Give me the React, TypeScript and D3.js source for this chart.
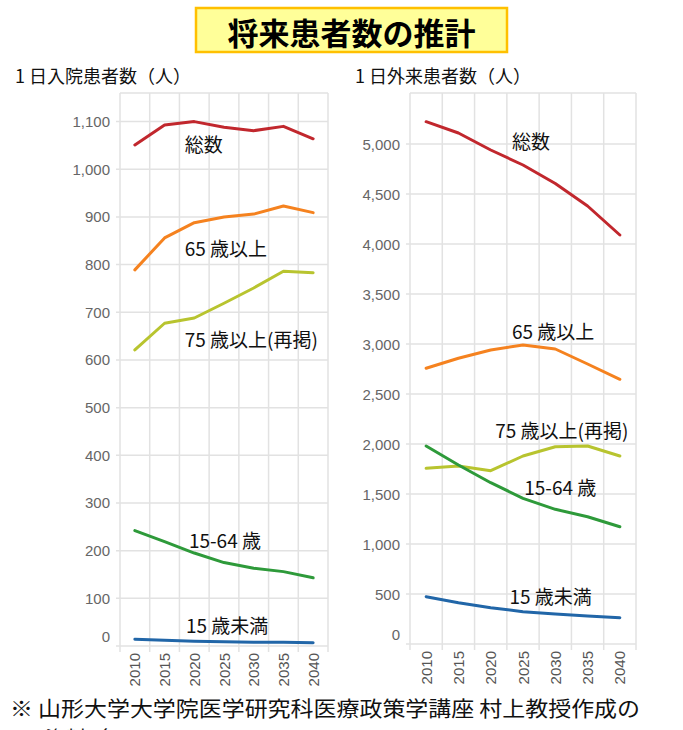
import React from "react";
import * as d3 from "d3";

const years = [2010, 2015, 2020, 2025, 2030, 2035, 2040];

// Inpatients per day
const inTotal = [1051, 1093, 1100, 1088, 1081, 1090, 1064];
const in65 = [789, 856, 888, 900, 906, 923, 909];
const in75 = [621, 677, 688, 719, 751, 786, 783];
const in1564 = [242, 219, 195, 175, 163, 156, 143];
const in15 = [14, 12, 10, 9, 8, 8, 7];

// Outpatients per day
const outTotal = [5223, 5110, 4940, 4790, 4605, 4380, 4090];
const out65 = [2757, 2857, 2940, 2990, 2950, 2800, 2647];
const out75 = [1757, 1780, 1733, 1880, 1973, 1980, 1880];
const out1564 = [1980, 1790, 1613, 1457, 1347, 1273, 1173];
const out15 = [473, 413, 363, 323, 300, 280, 263];

const seriesNames = ["総数", "65 歳以上", "75 歳以上(再掲)", "15-64 歳", "15 歳未満"];
const seriesColors = ["#c1272d", "#f5821f", "#b8c42f", "#2e9a3a", "#2166a8"];

const inTicks = [0, 100, 200, 300, 400, 500, 600, 700, 800, 900, 1000, 1100];
const outTicks = [0, 500, 1000, 1500, 2000, 2500, 3000, 3500, 4000, 4500, 5000];

// label anchors [year, value]
const inLabelYears = [2018.4, 2018.4, 2018.4, 2019.1, 2018.6];
const inLabelValues = [1055, 835, 646, 224, 46];
const outLabelYears = [2023.3, 2023.3, 2020.7, 2025.2, 2022.9];
const outLabelValues = [5040, 3140, 2150, 1580, 490];

const chartTitle = "将来患者数の推計";
const inTitle = "1 日入院患者数（人）";
const outTitle = "1 日外来患者数（人）";
const footnote1 = "※ 山形大学大学院医学研究科医療政策学講座 村上教授作成の";
const footnote2 = "資料（";

const JP = "'Noto Sans CJK JP', 'Noto Sans', sans-serif";
const TICKF = "'Liberation Sans', Arial, sans-serif";

type PanelProps = {
  left: number;
  right: number;
  top: number;
  bottom: number;
  yMax: number;
  data: number[][];
  ticks: number[];
  title: string;
  titleX: number;
  labelYears: number[];
  labelValues: number[];
};

function Panel(p: PanelProps) {
  const x = d3.scaleBand<number>().domain(years).range([p.left, p.right]).padding(0);
  const bw = x.bandwidth();
  const xc = (yr: number) => (x(yr) as number) + bw / 2;
  const xLin = d3.scaleLinear().domain([2010, 2040]).range([xc(2010), xc(2040)]);
  const y = d3.scaleLinear().domain([0, p.yMax]).range([p.bottom, p.top]);
  const fmt = d3.format(",");
  const line = d3
    .line<number>()
    .x((_, i) => xc(years[i]))
    .y((d) => y(d));
  const edges = [...years.map((yr) => x(yr) as number), p.right];
  const grid = "#e2e2e2";
  return (
    <g>
      <text x={p.titleX} y={75} dominantBaseline="central" fontFamily={JP} fontSize={18} fill="#111">
        {p.title}
      </text>
      {/* vertical grid */}
      {edges.map((ex, i) => (
        <line key={"v" + i} x1={ex} x2={ex} y1={p.top} y2={p.bottom + 6} stroke={grid} strokeWidth={1.5} />
      ))}
      <line x1={p.left} x2={p.right} y1={p.top} y2={p.top} stroke={grid} strokeWidth={1.5} />
      {/* horizontal grid */}
      {p.ticks.map((t) => (
        <g key={"h" + t}>
          <line x1={p.left - 4} x2={p.right} y1={y(t)} y2={y(t)} stroke={grid} strokeWidth={1.5} />
          <text
            x={p.left - 10}
            y={y(t) - (t === 0 ? 10 : 0)}
            textAnchor="end"
            dominantBaseline="central"
            fontFamily={TICKF}
            fontSize={15}
            fill="#666"
          >
            {fmt(t)}
          </text>
        </g>
      ))}
      {years.map((yr) => (
        <text
          key={"x" + yr}
          transform={`translate(${xc(yr)},${p.bottom + 7}) rotate(-90)`}
          textAnchor="end"
          dominantBaseline="central"
          fontFamily={TICKF}
          fontSize={15}
          fill="#555"
        >
          {yr}
        </text>
      ))}
      {p.data.map((s, i) => (
        <path
          key={"s" + i}
          d={line(s) as string}
          fill="none"
          stroke={seriesColors[i]}
          strokeWidth={3}
          strokeLinejoin="round"
          strokeLinecap="round"
        />
      ))}
      {seriesNames.map((n, i) => (
        <text
          key={"l" + i}
          x={xLin(p.labelYears[i])}
          y={y(p.labelValues[i])}
          dominantBaseline="central"
          fontFamily={JP}
          fontSize={19}
          fill="#111"
        >
          {n}
        </text>
      ))}
    </g>
  );
}

export default function App() {
  return (
    <div style={{ position: "absolute", left: 0, top: 0, width: 683, height: 730, overflow: "hidden", background: "#fff" }}>
      <svg width={683} height={730} style={{ display: "block" }}>
        <rect x={0} y={0} width={683} height={730} fill="#fff" />
        <rect x={196} y={8} width={311} height={44} fill="#ffff99" stroke="#ffc000" strokeWidth={2.5} />
        <text x={351.5} y={31} textAnchor="middle" dominantBaseline="central" fontFamily={JP} fontWeight={700} fontSize={31} fill="#000">
          {chartTitle}
        </text>
        <Panel
          left={120}
          right={328}
          top={93}
          bottom={646}
          yMax={1160}
          data={[inTotal, in65, in75, in1564, in15]}
          ticks={inTicks}
          title={inTitle}
          titleX={15}
          labelYears={inLabelYears}
          labelValues={inLabelValues}
        />
        <Panel
          left={410}
          right={636}
          top={93}
          bottom={644}
          yMax={5510}
          data={[outTotal, out65, out75, out1564, out15]}
          ticks={outTicks}
          title={outTitle}
          titleX={355}
          labelYears={outLabelYears}
          labelValues={outLabelValues}
        />
        <text x={10} y={707} dominantBaseline="central" fontFamily={JP} fontSize={21} fill="#111" textLength={630} lengthAdjust="spacingAndGlyphs">
          {footnote1}
        </text>
        <text x={45} y={737} dominantBaseline="central" fontFamily={JP} fontSize={21} fill="#111">
          {footnote2}
        </text>
      </svg>
    </div>
  );
}
